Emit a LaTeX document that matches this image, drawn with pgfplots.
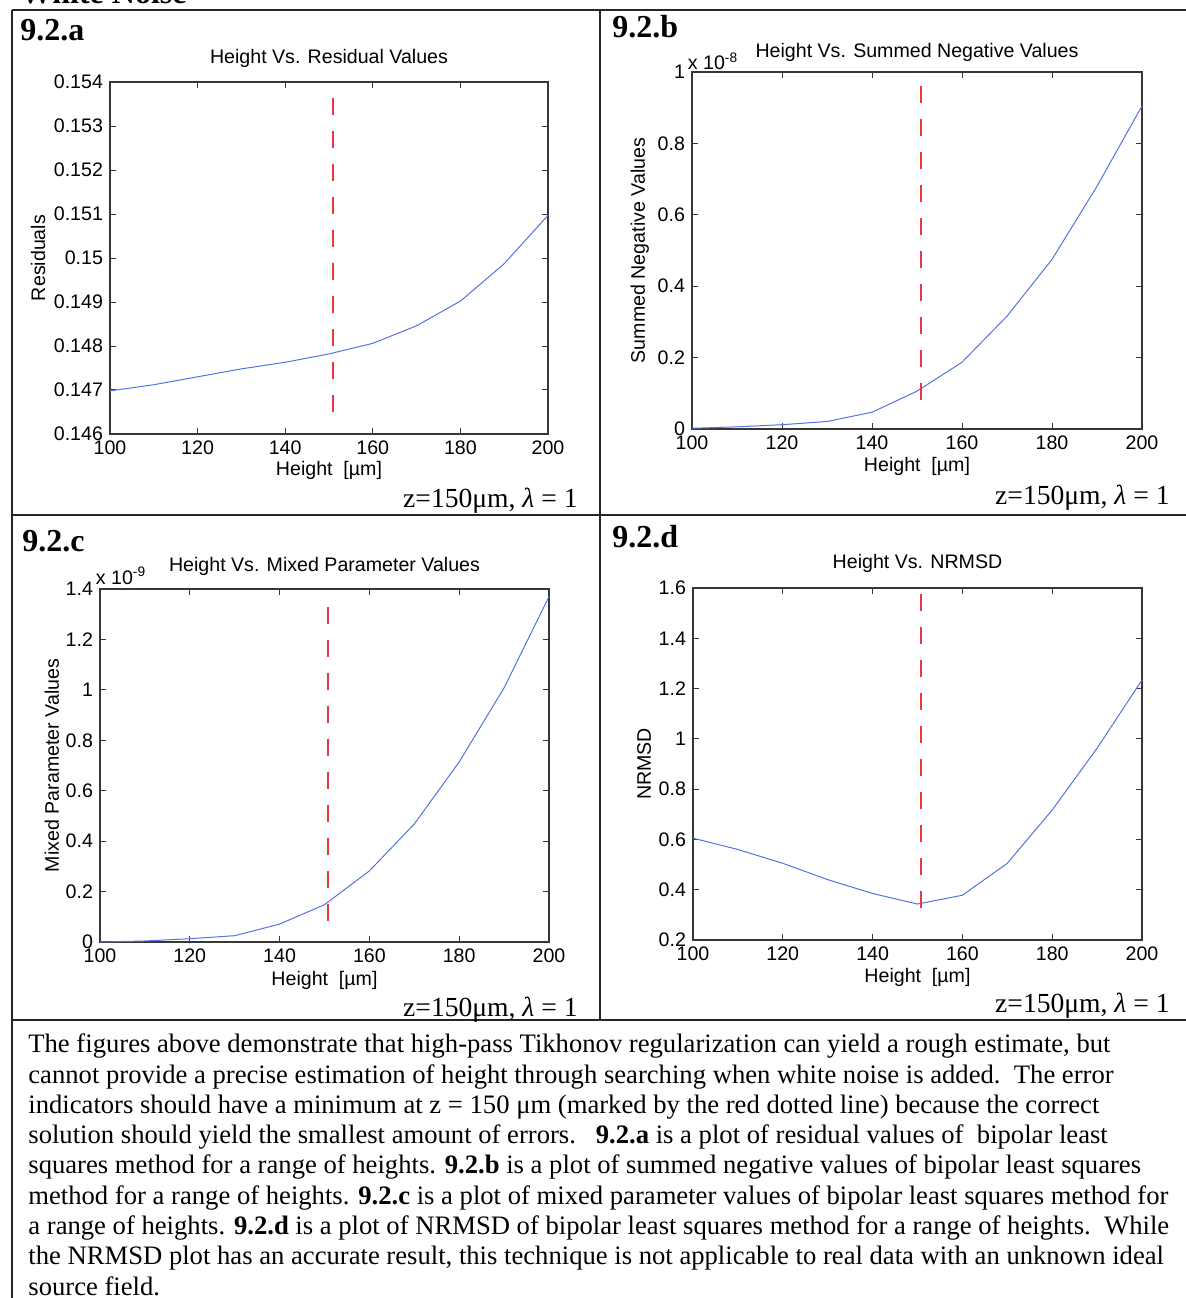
\documentclass[border=0pt]{standalone}
\usepackage{fontspec}
\setmainfont{Liberation Serif}
\newfontfamily\axfont{Liberation Sans}
\usepackage{pgfplots}
\pgfplotsset{compat=1.18}
\definecolor{mblue}{RGB}{85,115,225}
\definecolor{mred}{RGB}{235,55,65}
\definecolor{frm}{RGB}{55,55,55}
\newcommand{\axf}{\axfont\fontsize{9.8}{11}\selectfont}
\pgfplotsset{
  mat/.style={
    scale only axis,
    xmin=100, xmax=200,
    xtick={100,120,...,200},
    axis line style={frm, line width=0.55pt},
    tick style={frm, line width=0.5pt},
    major tick length=3pt,
    tick align=inside,
    font=\axf,
    ticklabel style={font=\axf},
    /pgf/number format/assume math mode=true,
    xlabel={Height\ \ [\textmu m]},
    every axis title shift=0pt,
    title style={anchor=center, font=\axf},
    xlabel style={anchor=center, font=\axf},
    ylabel style={anchor=center, font=\axf},
    clip=false,
  },
  curve/.style={mblue, line width=0.5pt, no marks},
  redl/.style={mred, line width=1pt, dash pattern=on 8.5pt off 8pt, no marks},
}
\begin{document}
\begin{tikzpicture}
\useasboundingbox (0,0) rectangle (593pt,649pt);
\clip (0,0) rectangle (593pt,649pt);

% ---------- 9.2.a ----------
\begin{axis}[mat, at={(55pt,432pt)}, anchor=south west,
  width=219pt, height=176pt,
  ymin=0.146, ymax=0.154, ytick={0.146,0.147,...,0.1545},
  yticklabel style={/pgf/number format/.cd, fixed, precision=3},
  title={Height Vs. Residual Values},
  title style={at={(axis description cs:0.5,1.066)}},
  ylabel={Residuals},
  ylabel style={at={(axis description cs:-0.164,0.5)}},
  xlabel style={at={(axis description cs:0.5,-0.103)}},
]
\addplot[curve] coordinates {(100,0.14698) (110,0.14712) (120,0.14730) (130,0.14748) (140,0.14763) (150,0.14782) (160,0.14806) (170,0.14846) (180,0.14902) (190,0.14987) (200,0.15097)};
\addplot[redl] coordinates {(150.8,0.15364) (150.8,0.14627)};
\end{axis}

% ---------- 9.2.b ----------
\begin{axis}[mat, at={(346pt,434.5pt)}, anchor=south west,
  width=225pt, height=178.5pt,
  ymin=0, ymax=1, ytick={0,0.2,...,1.01},
  title={Height Vs. Summed Negative Values},
  title style={at={(axis description cs:0.5,1.056)}},
  ylabel={Summed Negative Values},
  ylabel style={at={(axis description cs:-0.116,0.5)}},
  xlabel style={at={(axis description cs:0.5,-0.106)}},
]
\addplot[curve] coordinates {(100,0.002) (110,0.006) (120,0.012) (130,0.021) (140,0.047) (150,0.106) (160,0.187) (170,0.316) (180,0.475) (190,0.680) (200,0.905)};
\addplot[redl] coordinates {(150.8,0.96) (150.8,0.054)};
\node[anchor=south west, inner sep=0pt, font=\axf] at (rel axis cs:-0.01,1.006) {x 10\textsuperscript{-8}};
\end{axis}

% ---------- 9.2.c ----------
\begin{axis}[mat, at={(50pt,178pt)}, anchor=south west,
  width=224.5pt, height=176.5pt,
  ymin=0, ymax=1.4, ytick={0,0.2,...,1.41},
  title={Height Vs. Mixed Parameter Values},
  title style={at={(axis description cs:0.5,1.065)}},
  ylabel={Mixed Parameter Values},
  ylabel style={at={(axis description cs:-0.107,0.5)}},
  xlabel style={at={(axis description cs:0.5,-0.108)}},
]
\addplot[curve] coordinates {(100,0.000) (110,0.004) (120,0.013) (130,0.025) (140,0.071) (150,0.148) (160,0.282) (170,0.468) (180,0.714) (190,1.008) (200,1.370)};
\addplot[redl] coordinates {(150.8,1.33) (150.8,0.04)};
\node[anchor=south west, inner sep=0pt, font=\axf] at (rel axis cs:-0.01,1.012) {x 10\textsuperscript{-9}};
\end{axis}

% ---------- 9.2.d ----------
\begin{axis}[mat, at={(346.5pt,179pt)}, anchor=south west,
  width=224.5pt, height=176pt,
  ymin=0.2, ymax=1.6, ytick={0.2,0.4,...,1.61},
  title={Height Vs. NRMSD},
  title style={at={(axis description cs:0.5,1.071)}},
  ylabel={NRMSD},
  ylabel style={at={(axis description cs:-0.109,0.5)}},
  xlabel style={at={(axis description cs:0.5,-0.105)}},
]
\addplot[curve] coordinates {(100,0.605) (110,0.560) (120,0.505) (130,0.440) (140,0.385) (150,0.343) (160,0.378) (170,0.505) (180,0.717) (190,0.963) (200,1.234)};
\addplot[redl] coordinates {(150.8,1.576) (150.8,0.293)};
\end{axis}

% ---------- table and text ----------
\begin{scope}[x=0.5pt, y=0.5pt]
\draw[line width=1pt, black!85] (12,1288) -- (1186,1288);
\draw[line width=1pt, black!85] (12,1288) -- (12,0);
\draw[line width=1pt, black!85] (600,1288) -- (600,278);
\draw[line width=1pt, black!85] (12,783) -- (1186,783);
\draw[line width=1pt, black!85] (12,278) -- (1186,278);

\node[anchor=base west, inner sep=0pt, font=\fontsize{16}{18}\selectfont\bfseries] at (20,1294) {White Noise};

\node[anchor=base west, inner sep=0pt, font=\fontsize{16}{18}\selectfont\bfseries] at (20,1257) {9.2.a};
\node[anchor=base west, inner sep=0pt, font=\fontsize{16}{18}\selectfont\bfseries] at (612,1260) {9.2.b};
\node[anchor=base west, inner sep=0pt, font=\fontsize{16}{18}\selectfont\bfseries] at (22,746) {9.2.c};
\node[anchor=base west, inner sep=0pt, font=\fontsize{16}{18}\selectfont\bfseries] at (612,750) {9.2.d};

\node[anchor=base east, inner sep=0pt, font=\fontsize{13.8}{16}\selectfont] at (578,790) {z=150μm, \textit{λ} = 1};
\node[anchor=base east, inner sep=0pt, font=\fontsize{13.8}{16}\selectfont] at (1170,793) {z=150μm, \textit{λ} = 1};
\node[anchor=base east, inner sep=0pt, font=\fontsize{13.8}{16}\selectfont] at (578,281) {z=150μm, \textit{λ} = 1};
\node[anchor=base east, inner sep=0pt, font=\fontsize{13.8}{16}\selectfont] at (1170,285) {z=150μm, \textit{λ} = 1};

\begin{scope}[every node/.style={anchor=base west, inner sep=0pt, font=\fontsize{13.32}{15}\selectfont}]
\node at (28,245) {The figures above demonstrate that high-pass Tikhonov regularization can yield a rough estimate, but};
\node at (28,214.7) {cannot provide a precise estimation of height through searching when white noise is added.\ \ The error};
\node at (28,184.5) {indicators should have a minimum at z = 150 μm (marked by the red dotted line) because the correct};
\node at (28,154.2) {solution should yield the smallest amount of errors.\ \ \ \textbf{9.2.a} is a plot of residual values of\ \ bipolar least};
\node at (28,124) {squares method for a range of heights. \textbf{9.2.b} is a plot of summed negative values of bipolar least squares};
\node at (28,93.7) {method for a range of heights. \textbf{9.2.c} is a plot of mixed parameter values of bipolar least squares method for};
\node at (28,63.5) {a range of heights. \textbf{9.2.d} is a plot of NRMSD of bipolar least squares method for a range of heights.\ \ While};
\node at (28,33.2) {the NRMSD plot has an accurate result, this technique is not applicable to real data with an unknown ideal};
\node at (28,3) {source field.};
\end{scope}
\end{scope}
\end{tikzpicture}
\end{document}
